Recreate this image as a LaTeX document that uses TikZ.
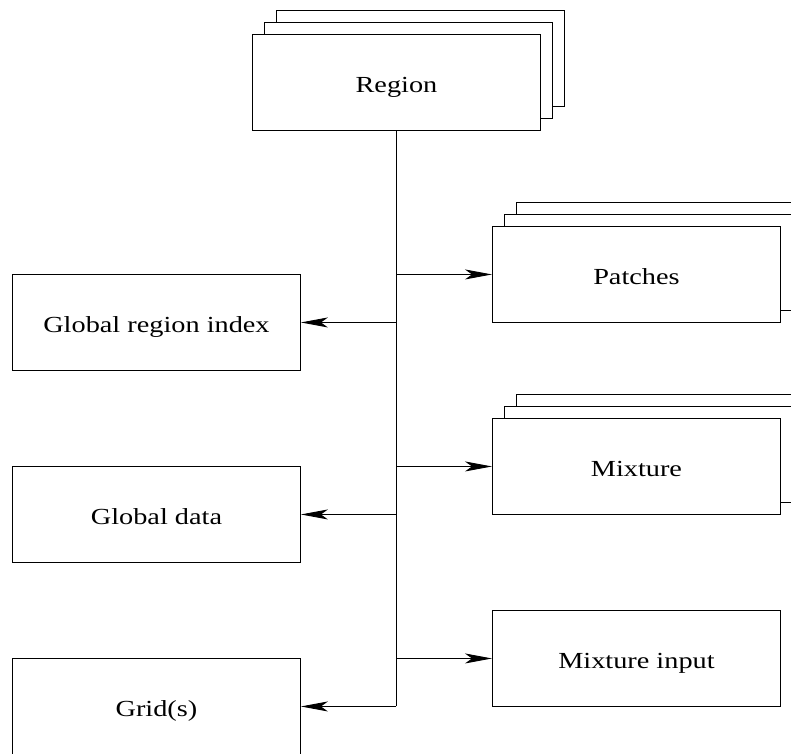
\documentclass[tikz,border=0pt]{standalone}
\usepackage{fontspec}
\setmainfont{Liberation Serif}
\usetikzlibrary{arrows.meta}
\newcommand\widetext[1]{\scalebox{1.23}[1]{#1}}
\begin{document}
\begin{tikzpicture}[x=1pt,y=-1pt,
  box/.style={draw, fill=white, line width=0.9pt, minimum width=288pt, minimum height=96pt,
    inner sep=0pt, text height=20pt, text depth=0pt,
    font=\fontsize{23}{27}\selectfont},
  sheet/.style={draw, fill=white, line width=0.9pt},
  link/.style={line width=0.9pt, -{Stealth[length=27pt,width=10pt,inset=7pt]}}]
\useasboundingbox (0,0) rectangle (791,753);
\clip (0,0) rectangle (791,753);

% Region: a stack of three sheets
\draw[sheet] (276,10) rectangle ++(288,96);
\draw[sheet] (264,22) rectangle ++(288,96);
\node[box, anchor=north west] (reg) at (252,34) {\widetext{Region}};

% Patches stack
\draw[sheet] (516,202) rectangle ++(288,96);
\draw[sheet] (504,214) rectangle ++(288,96);
\node[box, anchor=north west] (pat) at (492,226) {\widetext{Patches}};

% Mixture stack
\draw[sheet] (516,394) rectangle ++(288,96);
\draw[sheet] (504,406) rectangle ++(288,96);
\node[box, anchor=north west] (mix) at (492,418) {\widetext{Mixture}};

% Mixture input
\node[box, anchor=north west] (mixin) at (492,610) {\widetext{Mixture input}};

% Left column
\node[box, anchor=north west] (gri) at (12,274) {\widetext{Global region index}};
\node[box, anchor=north west] (gdat) at (12,466) {\widetext{Global data}};
\node[box, anchor=north west] (grid) at (12,658) {\widetext{Grid(s)}};

% Trunk
\coordinate (trunkend) at (reg.south |- grid.east);
\draw[line width=0.9pt] (reg.south) -- (trunkend);

% Branches
\draw[link] (reg.south |- pat.west) -- (pat.west);
\draw[link] (reg.south |- mix.west) -- (mix.west);
\draw[link] (reg.south |- mixin.west) -- (mixin.west);
\draw[link] (reg.south |- gri.east) -- (gri.east);
\draw[link] (reg.south |- gdat.east) -- (gdat.east);
\draw[link] (trunkend) -- (grid.east);
\end{tikzpicture}
\end{document}
